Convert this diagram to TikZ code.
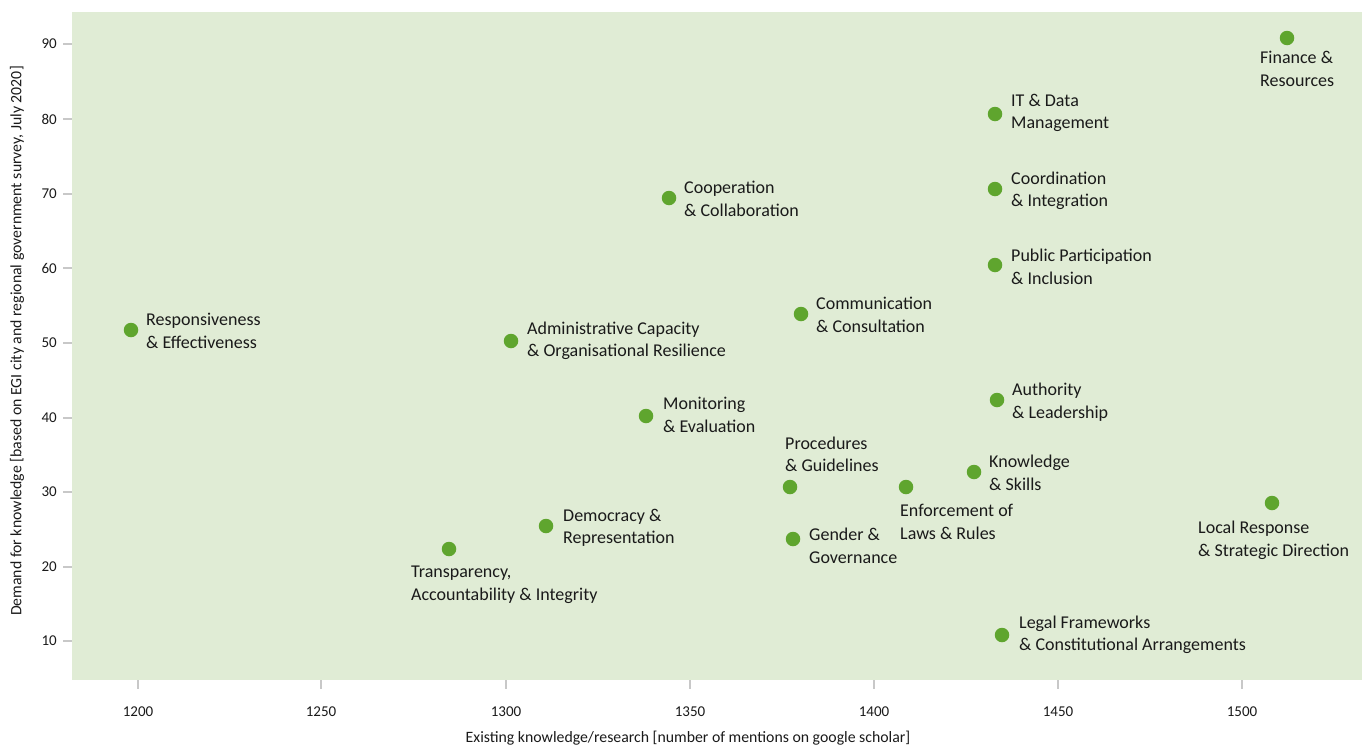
\documentclass[tikz,border=0pt]{standalone}
\usepackage{fontspec}
\setmainfont{Carlito}
\definecolor{plotbg}{HTML}{E0ECD5}
\definecolor{dotgreen}{HTML}{5FA52E}
\definecolor{tickgray}{HTML}{C8C8C8}
\definecolor{txt}{HTML}{1A1A1A}
\begin{document}
\begin{tikzpicture}[x=1pt,y=-1pt,
  dot/.style={circle,fill=dotgreen,inner sep=0pt,minimum size=14.5pt},
  lbl/.style={align=left,inner sep=0pt,text=txt,font=\fontsize{18}{22.5}\selectfont},
  ticklbl/.style={inner sep=0pt,text=txt,font=\fontsize{15}{18}\selectfont},
  axtitle/.style={inner sep=0pt,text=txt,font=\fontsize{15.8}{19}\selectfont},
  tick/.style={draw=tickgray,line width=1.2pt}]
\useasboundingbox (0,0) rectangle (1368,747);
\fill[plotbg] (72,12) rectangle (1362,680);
% y ticks
\foreach \v/\yy in {90/44,80/119,70/194,60/268,50/343,40/418,30/492,20/567,10/641}{
  \draw[tick] (63,\yy) -- (72,\yy);
  \node[ticklbl,anchor=east] (yt\v) at (57,\yy) {\v};
}
% x ticks
\foreach \v/\xx in {1200/138,1250/321,1300/506,1350/690,1400/874,1450/1058,1500/1242}{
  \draw[tick] (\xx,680) -- (\xx,689);
  \node[ticklbl] (xt\v) at (\xx,712) {\v};
}
\node[axtitle] (xtitle) at (688,738) {Existing knowledge/research [number of mentions on google scholar]};
\node[axtitle,rotate=90] (ytitle) at (17,341) {Demand for knowledge [based on EGI city and regional government survey, July 2020]};
% data points
\node[dot] (fin) at (1287,38) {};
\node[lbl,anchor=north west] at (1260,51) {Finance \&\\Resources};
\node[dot] (it) at (995,114) {};
\node[lbl,anchor=west] at (1011,113) {IT \& Data\\Management};
\node[dot] (coord) at (995,189) {};
\node[lbl,anchor=west] at (1011,191) {Coordination\\\& Integration};
\node[dot] (pub) at (995,265) {};
\node[lbl,anchor=west] at (1011,267) {Public Participation\\\& Inclusion};
\node[dot] (coop) at (669,198) {};
\node[lbl,anchor=west] at (684,199) {Cooperation\\\& Collaboration};
\node[dot] (comm) at (801,314) {};
\node[lbl,anchor=west] at (816,315) {Communication\\\& Consultation};
\node[dot] (resp) at (131,330) {};
\node[lbl,anchor=west] at (146,331) {Responsiveness\\\& Effectiveness};
\node[dot] (adm) at (511,341) {};
\node[lbl,anchor=west] at (527,341) {Administrative Capacity\\\& Organisational Resilience};
\node[dot] (auth) at (997,400) {};
\node[lbl,anchor=west] at (1012,402) {Authority\\\& Leadership};
\node[dot] (mon) at (646,416) {};
\node[lbl,anchor=west] at (663,415) {Monitoring\\\& Evaluation};
\node[dot] (proc) at (790,487) {};
\node[lbl,anchor=south west] at (785,472) {Procedures\\\& Guidelines};
\node[dot] (enf) at (906,487) {};
\node[lbl,anchor=north west] at (900,504) {Enforcement of\\Laws \& Rules};
\node[dot] (know) at (974,472) {};
\node[lbl,anchor=west] at (989,473) {Knowledge\\\& Skills};
\node[dot] (loc) at (1272,503) {};
\node[lbl,anchor=north west] at (1198,521) {Local Response\\\& Strategic Direction};
\node[dot] (dem) at (546,526) {};
\node[lbl,anchor=west] at (563,528) {Democracy \&\\Representation};
\node[dot] (gen) at (793,539) {};
\node[lbl,anchor=west] at (809,546) {Gender \&\\Governance};
\node[dot] (tra) at (449,549) {};
\node[lbl,anchor=north west] at (411,566) {Transparency,\\Accountability \& Integrity};
\node[dot] (leg) at (1002,635) {};
\node[lbl,anchor=west] at (1019,635) {Legal Frameworks\\\& Constitutional Arrangements};
\end{tikzpicture}
\end{document}
